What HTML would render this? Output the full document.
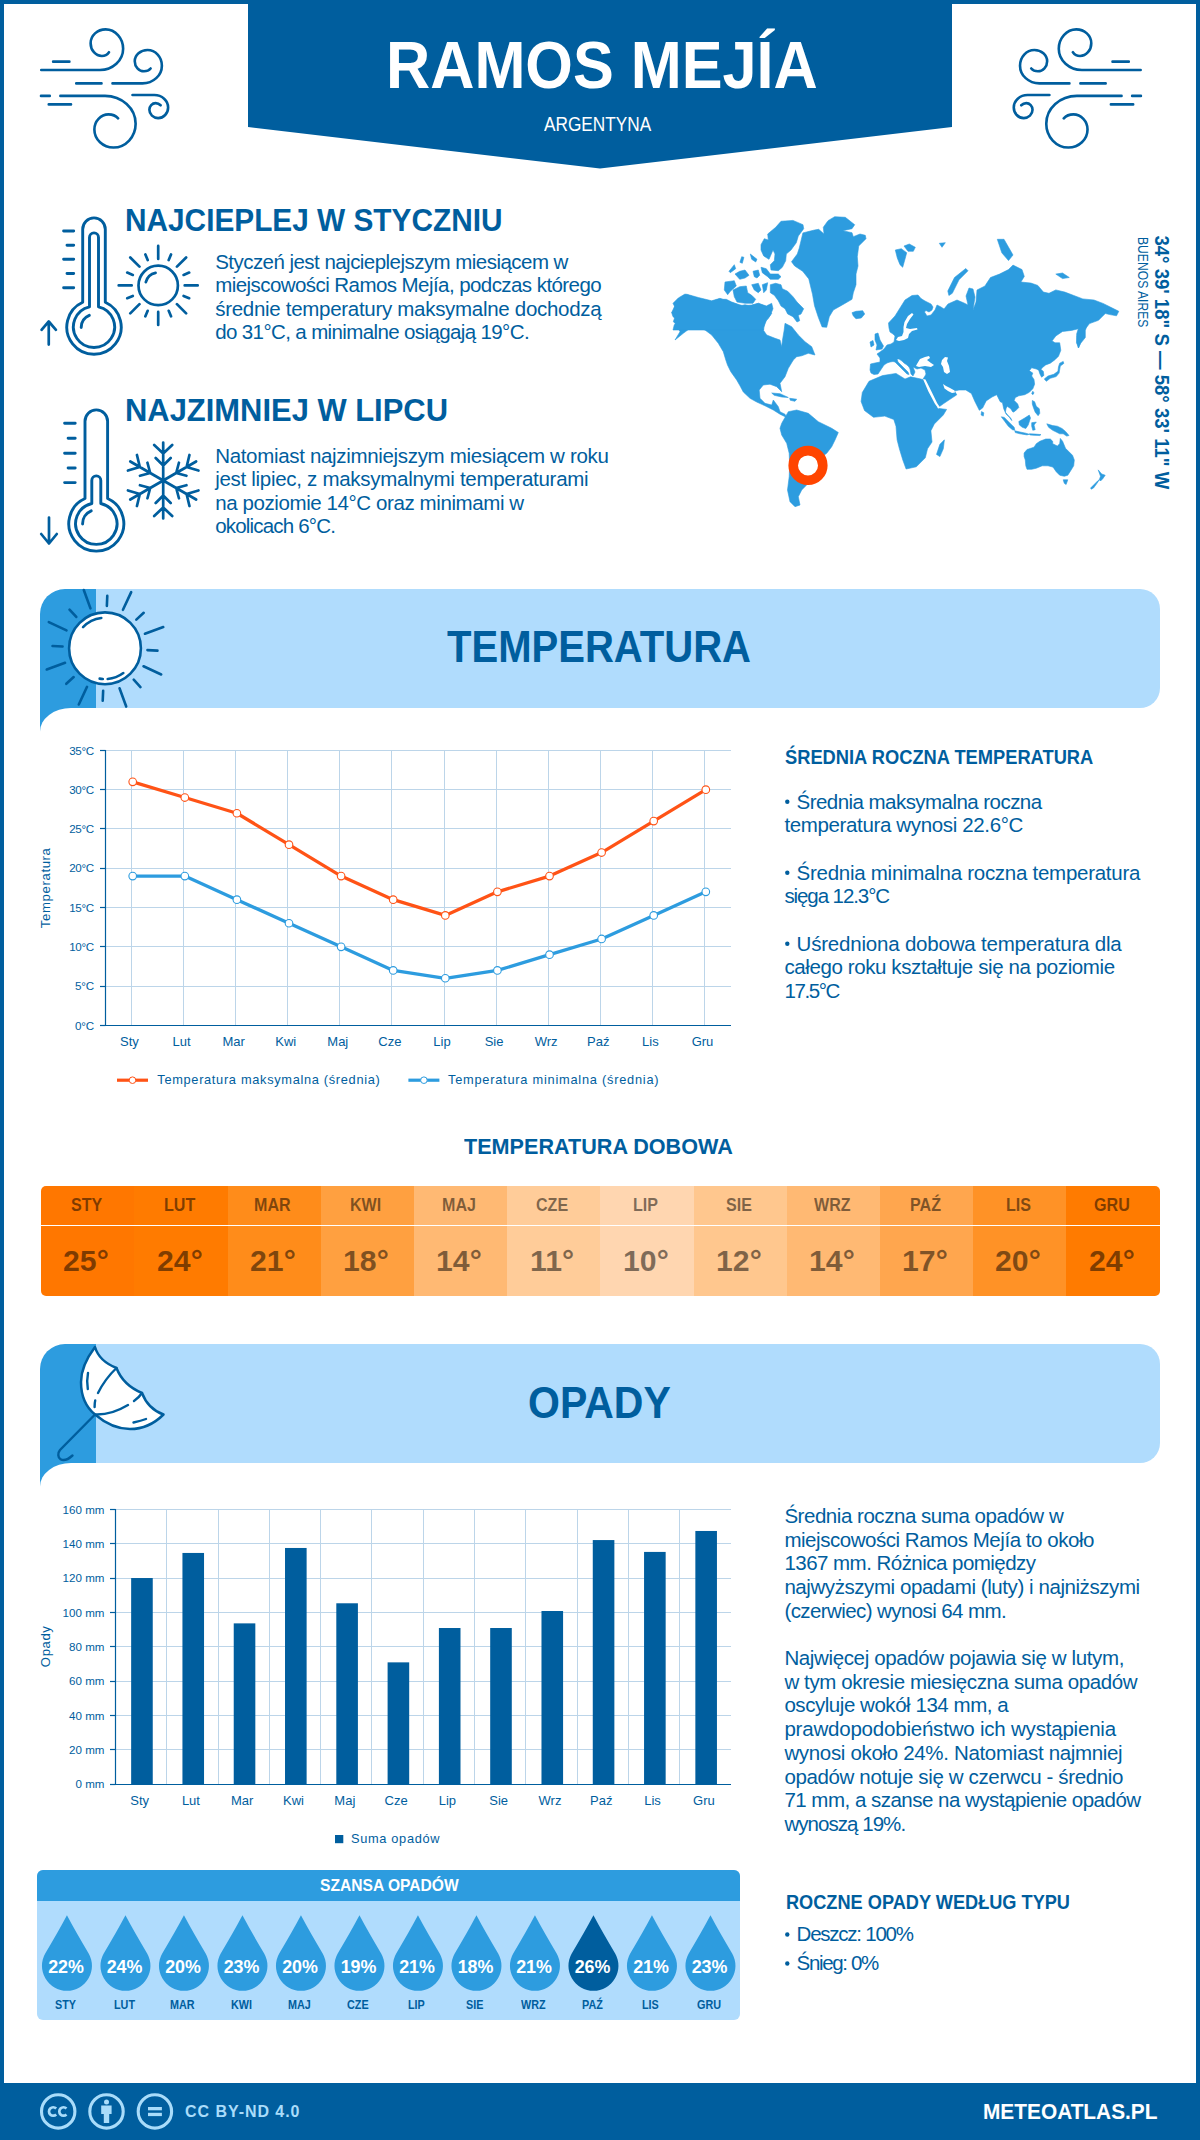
<!DOCTYPE html>
<html><head><meta charset="utf-8"><title>Ramos Mejía - klimat</title>
<style>
html,body{margin:0;padding:0;background:#fff}
#page{position:relative;width:1200px;height:2140px;overflow:hidden;background:#fff;font-family:"Liberation Sans", sans-serif}
#page span{position:absolute;white-space:pre;line-height:1}
svg{position:absolute;left:0;top:0}
</style></head><body><div id="page">
<div style="position:absolute;left:0px;top:0px;width:1200px;height:4px;background:#005e9e;"></div><div style="position:absolute;left:0px;top:0px;width:4px;height:2140px;background:#005e9e;"></div><div style="position:absolute;left:1196px;top:0px;width:4px;height:2140px;background:#005e9e;"></div><div style="position:absolute;left:0px;top:2083px;width:1200px;height:57px;background:#005e9e;"></div><div style="position:absolute;left:40px;top:588.5px;width:80px;height:149.0px;background:#2d9cdf;border-top-left-radius:25px;"></div><div style="position:absolute;left:96px;top:588.5px;width:1064px;height:119.0px;background:#b0dcfd;border-top-right-radius:20px;border-bottom-right-radius:20px;"></div><div style="position:absolute;left:40px;top:707.5px;width:200px;height:60px;background:#fff;border-top-left-radius:31px 23.5px;"></div><div style="position:absolute;left:40px;top:1344.3px;width:80px;height:148.70000000000005px;background:#2d9cdf;border-top-left-radius:25px;"></div><div style="position:absolute;left:96px;top:1344.3px;width:1064px;height:118.70000000000005px;background:#b0dcfd;border-top-right-radius:20px;border-bottom-right-radius:20px;"></div><div style="position:absolute;left:40px;top:1463px;width:200px;height:60px;background:#fff;border-top-left-radius:31px 23.5px;"></div><div style="position:absolute;left:41.25px;top:1186.3px;width:1118.25px;height:109.5px;border-radius:5px;overflow:hidden;display:flex"><div style="flex:1;background:#ff7700"></div><div style="flex:1;background:#ff7b00"></div><div style="flex:1;background:#ff8c1a"></div><div style="flex:1;background:#ffa040"></div><div style="flex:1;background:#ffb973"></div><div style="flex:1;background:#ffcc99"></div><div style="flex:1;background:#ffd6b0"></div><div style="flex:1;background:#ffc78e"></div><div style="flex:1;background:#ffb973"></div><div style="flex:1;background:#ffa64e"></div><div style="flex:1;background:#ff9226"></div><div style="flex:1;background:#ff7b00"></div></div><div style="position:absolute;left:41.25px;top:1224.6px;width:1118.25px;height:1.4px;background:#fff;"></div><div style="position:absolute;left:37px;top:1870.2px;width:703px;height:150px;background:#b0dcfd;border-radius:6px;overflow:hidden;"></div><div style="position:absolute;left:37px;top:1870.2px;width:703px;height:30.6px;background:#2d9cdf;border-radius:6px 6px 0 0;"></div>
<svg width="1200" height="2140" viewBox="0 0 1200 2140">
<polygon points="248,0 952,0 952,127 600,168.5 248,127" fill="#005e9e"/>
<line x1="105.5" y1="986.5" x2="731" y2="986.5" stroke="#bcd5e9" stroke-width="1"/>
<line x1="105.5" y1="946.5" x2="731" y2="946.5" stroke="#bcd5e9" stroke-width="1"/>
<line x1="105.5" y1="907.5" x2="731" y2="907.5" stroke="#bcd5e9" stroke-width="1"/>
<line x1="105.5" y1="868.5" x2="731" y2="868.5" stroke="#bcd5e9" stroke-width="1"/>
<line x1="105.5" y1="828.5" x2="731" y2="828.5" stroke="#bcd5e9" stroke-width="1"/>
<line x1="105.5" y1="789.5" x2="731" y2="789.5" stroke="#bcd5e9" stroke-width="1"/>
<line x1="105.5" y1="750.5" x2="731" y2="750.5" stroke="#bcd5e9" stroke-width="1"/>
<line x1="131.5" y1="750.4" x2="131.5" y2="1025.4" stroke="#bcd5e9" stroke-width="1"/>
<line x1="183.5" y1="750.4" x2="183.5" y2="1025.4" stroke="#bcd5e9" stroke-width="1"/>
<line x1="235.5" y1="750.4" x2="235.5" y2="1025.4" stroke="#bcd5e9" stroke-width="1"/>
<line x1="287.5" y1="750.4" x2="287.5" y2="1025.4" stroke="#bcd5e9" stroke-width="1"/>
<line x1="339.5" y1="750.4" x2="339.5" y2="1025.4" stroke="#bcd5e9" stroke-width="1"/>
<line x1="391.5" y1="750.4" x2="391.5" y2="1025.4" stroke="#bcd5e9" stroke-width="1"/>
<line x1="444.5" y1="750.4" x2="444.5" y2="1025.4" stroke="#bcd5e9" stroke-width="1"/>
<line x1="496.5" y1="750.4" x2="496.5" y2="1025.4" stroke="#bcd5e9" stroke-width="1"/>
<line x1="548.5" y1="750.4" x2="548.5" y2="1025.4" stroke="#bcd5e9" stroke-width="1"/>
<line x1="600.5" y1="750.4" x2="600.5" y2="1025.4" stroke="#bcd5e9" stroke-width="1"/>
<line x1="652.5" y1="750.4" x2="652.5" y2="1025.4" stroke="#bcd5e9" stroke-width="1"/>
<line x1="704.5" y1="750.4" x2="704.5" y2="1025.4" stroke="#bcd5e9" stroke-width="1"/>
<line x1="105.5" y1="750.0" x2="105.5" y2="1026.0" stroke="#005e9e" stroke-width="1.2"/>
<line x1="105.5" y1="1025.5" x2="731" y2="1025.5" stroke="#005e9e" stroke-width="1.2"/>
<line x1="100" y1="1025.5" x2="105.5" y2="1025.5" stroke="#005e9e" stroke-width="1.2"/>
<line x1="100" y1="986.5" x2="105.5" y2="986.5" stroke="#005e9e" stroke-width="1.2"/>
<line x1="100" y1="946.5" x2="105.5" y2="946.5" stroke="#005e9e" stroke-width="1.2"/>
<line x1="100" y1="907.5" x2="105.5" y2="907.5" stroke="#005e9e" stroke-width="1.2"/>
<line x1="100" y1="868.5" x2="105.5" y2="868.5" stroke="#005e9e" stroke-width="1.2"/>
<line x1="100" y1="828.5" x2="105.5" y2="828.5" stroke="#005e9e" stroke-width="1.2"/>
<line x1="100" y1="789.5" x2="105.5" y2="789.5" stroke="#005e9e" stroke-width="1.2"/>
<line x1="100" y1="750.5" x2="105.5" y2="750.5" stroke="#005e9e" stroke-width="1.2"/>
<polyline points="132.70,781.83 184.80,797.54 236.90,813.26 289.00,844.69 341.10,876.11 393.20,899.69 445.30,915.40 497.40,891.83 549.50,876.11 601.60,852.54 653.70,821.11 705.80,789.69" fill="none" stroke="#ff5316" stroke-width="3.3" stroke-linejoin="round"/>
<circle cx="132.70" cy="781.83" r="3.8" fill="#fff" stroke="#ff5316" stroke-width="1.1"/>
<circle cx="184.80" cy="797.54" r="3.8" fill="#fff" stroke="#ff5316" stroke-width="1.1"/>
<circle cx="236.90" cy="813.26" r="3.8" fill="#fff" stroke="#ff5316" stroke-width="1.1"/>
<circle cx="289.00" cy="844.69" r="3.8" fill="#fff" stroke="#ff5316" stroke-width="1.1"/>
<circle cx="341.10" cy="876.11" r="3.8" fill="#fff" stroke="#ff5316" stroke-width="1.1"/>
<circle cx="393.20" cy="899.69" r="3.8" fill="#fff" stroke="#ff5316" stroke-width="1.1"/>
<circle cx="445.30" cy="915.40" r="3.8" fill="#fff" stroke="#ff5316" stroke-width="1.1"/>
<circle cx="497.40" cy="891.83" r="3.8" fill="#fff" stroke="#ff5316" stroke-width="1.1"/>
<circle cx="549.50" cy="876.11" r="3.8" fill="#fff" stroke="#ff5316" stroke-width="1.1"/>
<circle cx="601.60" cy="852.54" r="3.8" fill="#fff" stroke="#ff5316" stroke-width="1.1"/>
<circle cx="653.70" cy="821.11" r="3.8" fill="#fff" stroke="#ff5316" stroke-width="1.1"/>
<circle cx="705.80" cy="789.69" r="3.8" fill="#fff" stroke="#ff5316" stroke-width="1.1"/>
<polyline points="132.70,876.11 184.80,876.11 236.90,899.69 289.00,923.26 341.10,946.83 393.20,970.40 445.30,978.26 497.40,970.40 549.50,954.69 601.60,938.97 653.70,915.40 705.80,891.83" fill="none" stroke="#2d9cdf" stroke-width="3.3" stroke-linejoin="round"/>
<circle cx="132.70" cy="876.11" r="3.8" fill="#fff" stroke="#2d9cdf" stroke-width="1.1"/>
<circle cx="184.80" cy="876.11" r="3.8" fill="#fff" stroke="#2d9cdf" stroke-width="1.1"/>
<circle cx="236.90" cy="899.69" r="3.8" fill="#fff" stroke="#2d9cdf" stroke-width="1.1"/>
<circle cx="289.00" cy="923.26" r="3.8" fill="#fff" stroke="#2d9cdf" stroke-width="1.1"/>
<circle cx="341.10" cy="946.83" r="3.8" fill="#fff" stroke="#2d9cdf" stroke-width="1.1"/>
<circle cx="393.20" cy="970.40" r="3.8" fill="#fff" stroke="#2d9cdf" stroke-width="1.1"/>
<circle cx="445.30" cy="978.26" r="3.8" fill="#fff" stroke="#2d9cdf" stroke-width="1.1"/>
<circle cx="497.40" cy="970.40" r="3.8" fill="#fff" stroke="#2d9cdf" stroke-width="1.1"/>
<circle cx="549.50" cy="954.69" r="3.8" fill="#fff" stroke="#2d9cdf" stroke-width="1.1"/>
<circle cx="601.60" cy="938.97" r="3.8" fill="#fff" stroke="#2d9cdf" stroke-width="1.1"/>
<circle cx="653.70" cy="915.40" r="3.8" fill="#fff" stroke="#2d9cdf" stroke-width="1.1"/>
<circle cx="705.80" cy="891.83" r="3.8" fill="#fff" stroke="#2d9cdf" stroke-width="1.1"/>
<line x1="117" y1="1080.2" x2="148" y2="1080.2" stroke="#ff5316" stroke-width="3.2"/><circle cx="132.5" cy="1080.2" r="3.3" fill="#fff" stroke="#ff5316" stroke-width="1"/>
<line x1="408.4" y1="1080.2" x2="439.4" y2="1080.2" stroke="#2d9cdf" stroke-width="3.2"/><circle cx="423.9" cy="1080.2" r="3.3" fill="#fff" stroke="#2d9cdf" stroke-width="1"/>
<circle cx="787.30" cy="801.80" r="2.2" fill="#005e9e"/>
<circle cx="787.30" cy="872.78" r="2.2" fill="#005e9e"/>
<circle cx="787.30" cy="943.76" r="2.2" fill="#005e9e"/>
<line x1="115.5" y1="1749.5" x2="731" y2="1749.5" stroke="#bcd5e9" stroke-width="1"/>
<line x1="115.5" y1="1715.5" x2="731" y2="1715.5" stroke="#bcd5e9" stroke-width="1"/>
<line x1="115.5" y1="1681.5" x2="731" y2="1681.5" stroke="#bcd5e9" stroke-width="1"/>
<line x1="115.5" y1="1646.5" x2="731" y2="1646.5" stroke="#bcd5e9" stroke-width="1"/>
<line x1="115.5" y1="1612.5" x2="731" y2="1612.5" stroke="#bcd5e9" stroke-width="1"/>
<line x1="115.5" y1="1578.5" x2="731" y2="1578.5" stroke="#bcd5e9" stroke-width="1"/>
<line x1="115.5" y1="1543.5" x2="731" y2="1543.5" stroke="#bcd5e9" stroke-width="1"/>
<line x1="115.5" y1="1509.5" x2="731" y2="1509.5" stroke="#bcd5e9" stroke-width="1"/>
<line x1="166.5" y1="1509.5" x2="166.5" y2="1784.3" stroke="#bcd5e9" stroke-width="1"/>
<line x1="218.5" y1="1509.5" x2="218.5" y2="1784.3" stroke="#bcd5e9" stroke-width="1"/>
<line x1="269.5" y1="1509.5" x2="269.5" y2="1784.3" stroke="#bcd5e9" stroke-width="1"/>
<line x1="320.5" y1="1509.5" x2="320.5" y2="1784.3" stroke="#bcd5e9" stroke-width="1"/>
<line x1="371.5" y1="1509.5" x2="371.5" y2="1784.3" stroke="#bcd5e9" stroke-width="1"/>
<line x1="423.5" y1="1509.5" x2="423.5" y2="1784.3" stroke="#bcd5e9" stroke-width="1"/>
<line x1="474.5" y1="1509.5" x2="474.5" y2="1784.3" stroke="#bcd5e9" stroke-width="1"/>
<line x1="525.5" y1="1509.5" x2="525.5" y2="1784.3" stroke="#bcd5e9" stroke-width="1"/>
<line x1="577.5" y1="1509.5" x2="577.5" y2="1784.3" stroke="#bcd5e9" stroke-width="1"/>
<line x1="628.5" y1="1509.5" x2="628.5" y2="1784.3" stroke="#bcd5e9" stroke-width="1"/>
<line x1="679.5" y1="1509.5" x2="679.5" y2="1784.3" stroke="#bcd5e9" stroke-width="1"/>
<rect x="131.15" y="1578.03" width="21.6" height="206.27" fill="#005e9e"/>
<rect x="182.44" y="1552.95" width="21.6" height="231.35" fill="#005e9e"/>
<rect x="233.73" y="1623.37" width="21.6" height="160.93" fill="#005e9e"/>
<rect x="285.02" y="1547.97" width="21.6" height="236.33" fill="#005e9e"/>
<rect x="336.31" y="1603.28" width="21.6" height="181.02" fill="#005e9e"/>
<rect x="387.60" y="1662.36" width="21.6" height="121.94" fill="#005e9e"/>
<rect x="438.90" y="1628.01" width="21.6" height="156.29" fill="#005e9e"/>
<rect x="490.19" y="1628.01" width="21.6" height="156.29" fill="#005e9e"/>
<rect x="541.48" y="1611.00" width="21.6" height="173.30" fill="#005e9e"/>
<rect x="592.77" y="1540.07" width="21.6" height="244.23" fill="#005e9e"/>
<rect x="644.06" y="1551.92" width="21.6" height="232.38" fill="#005e9e"/>
<rect x="695.35" y="1530.97" width="21.6" height="253.33" fill="#005e9e"/>
<line x1="115.5" y1="1509.0" x2="115.5" y2="1785.0" stroke="#005e9e" stroke-width="1.2"/>
<line x1="115.5" y1="1784.5" x2="731" y2="1784.5" stroke="#005e9e" stroke-width="1.2"/>
<line x1="110" y1="1784.5" x2="115.5" y2="1784.5" stroke="#005e9e" stroke-width="1.2"/>
<line x1="110" y1="1749.5" x2="115.5" y2="1749.5" stroke="#005e9e" stroke-width="1.2"/>
<line x1="110" y1="1715.5" x2="115.5" y2="1715.5" stroke="#005e9e" stroke-width="1.2"/>
<line x1="110" y1="1681.5" x2="115.5" y2="1681.5" stroke="#005e9e" stroke-width="1.2"/>
<line x1="110" y1="1646.5" x2="115.5" y2="1646.5" stroke="#005e9e" stroke-width="1.2"/>
<line x1="110" y1="1612.5" x2="115.5" y2="1612.5" stroke="#005e9e" stroke-width="1.2"/>
<line x1="110" y1="1578.5" x2="115.5" y2="1578.5" stroke="#005e9e" stroke-width="1.2"/>
<line x1="110" y1="1543.5" x2="115.5" y2="1543.5" stroke="#005e9e" stroke-width="1.2"/>
<line x1="110" y1="1509.5" x2="115.5" y2="1509.5" stroke="#005e9e" stroke-width="1.2"/>
<rect x="335" y="1835" width="8.3" height="8.2" fill="#005e9e"/>
<circle cx="787.30" cy="1934.50" r="2.2" fill="#005e9e"/>
<circle cx="787.30" cy="1963.50" r="2.2" fill="#005e9e"/>
<path d="M66.95,1915.3 Q75.95,1932.3 88.67,1953.42 A25,25 0 1 1 45.23,1953.42 Q57.95,1932.3 66.95,1915.3 Z" fill="#2d9cdf"/>
<path d="M125.45,1915.3 Q134.45,1932.3 147.17,1953.42 A25,25 0 1 1 103.73,1953.42 Q116.45,1932.3 125.45,1915.3 Z" fill="#2d9cdf"/>
<path d="M183.95,1915.3 Q192.95,1932.3 205.67,1953.42 A25,25 0 1 1 162.23,1953.42 Q174.95,1932.3 183.95,1915.3 Z" fill="#2d9cdf"/>
<path d="M242.45,1915.3 Q251.45,1932.3 264.17,1953.42 A25,25 0 1 1 220.73,1953.42 Q233.45,1932.3 242.45,1915.3 Z" fill="#2d9cdf"/>
<path d="M300.95,1915.3 Q309.95,1932.3 322.67,1953.42 A25,25 0 1 1 279.23,1953.42 Q291.95,1932.3 300.95,1915.3 Z" fill="#2d9cdf"/>
<path d="M359.45,1915.3 Q368.45,1932.3 381.17,1953.42 A25,25 0 1 1 337.73,1953.42 Q350.45,1932.3 359.45,1915.3 Z" fill="#2d9cdf"/>
<path d="M417.95,1915.3 Q426.95,1932.3 439.67,1953.42 A25,25 0 1 1 396.23,1953.42 Q408.95,1932.3 417.95,1915.3 Z" fill="#2d9cdf"/>
<path d="M476.45,1915.3 Q485.45,1932.3 498.17,1953.42 A25,25 0 1 1 454.73,1953.42 Q467.45,1932.3 476.45,1915.3 Z" fill="#2d9cdf"/>
<path d="M534.95,1915.3 Q543.95,1932.3 556.67,1953.42 A25,25 0 1 1 513.23,1953.42 Q525.95,1932.3 534.95,1915.3 Z" fill="#2d9cdf"/>
<path d="M593.45,1915.3 Q602.45,1932.3 615.17,1953.42 A25,25 0 1 1 571.73,1953.42 Q584.45,1932.3 593.45,1915.3 Z" fill="#005e9e"/>
<path d="M651.95,1915.3 Q660.95,1932.3 673.67,1953.42 A25,25 0 1 1 630.23,1953.42 Q642.95,1932.3 651.95,1915.3 Z" fill="#2d9cdf"/>
<path d="M710.45,1915.3 Q719.45,1932.3 732.17,1953.42 A25,25 0 1 1 688.73,1953.42 Q701.45,1932.3 710.45,1915.3 Z" fill="#2d9cdf"/>
<g transform="translate(30,20) scale(0.125)"><path d="M90,400 L560,400 C662,400 745,324 745,230 C745,144 682,75 605,75 C539,75 485,124 485,185 C485,242 525,288 575,288 C600,288 620,275 632,258 M185,333 L315,333 M370,507 L572,507 M660,507 L900,507 C986,507 1055,443 1055,365 C1055,296 1004,240 940,240 C884,240 838,280 838,330 C838,374 871,410 912,410 C935,410 955,400 965,388 M88,607 L158,607 M243,607 L600,607 C735,607 845,707 845,830 C845,935 766,1020 668,1020 C584,1020 515,955 515,875 C515,809 566,755 628,755 C660,755 690,770 705,787 M150,675 L328,675 M820,600 L995,600 C1056,600 1105,645 1105,700 C1105,747 1069,785 1025,785 C986,785 955,755 955,718 C955,689 977,665 1005,665 C1022,665 1035,672 1045,682" fill="none" stroke="#005e9e" stroke-width="21" stroke-linecap="round" stroke-linejoin="round"/></g>
<g transform="translate(1151.9,20) scale(-0.125,0.125)"><path d="M90,400 L560,400 C662,400 745,324 745,230 C745,144 682,75 605,75 C539,75 485,124 485,185 C485,242 525,288 575,288 C600,288 620,275 632,258 M185,333 L315,333 M370,507 L572,507 M660,507 L900,507 C986,507 1055,443 1055,365 C1055,296 1004,240 940,240 C884,240 838,280 838,330 C838,374 871,410 912,410 C935,410 955,400 965,388 M88,607 L158,607 M243,607 L600,607 C735,607 845,707 845,830 C845,935 766,1020 668,1020 C584,1020 515,955 515,875 C515,809 566,755 628,755 C660,755 690,770 705,787 M150,675 L328,675 M820,600 L995,600 C1056,600 1105,645 1105,700 C1105,747 1069,785 1025,785 C986,785 955,755 955,718 C955,689 977,665 1005,665 C1022,665 1035,672 1045,682" fill="none" stroke="#005e9e" stroke-width="21" stroke-linecap="round" stroke-linejoin="round"/></g>
<path d="M82.70,302.26 L82.70,229.20 A11.3,11.3 0 0 1 105.30,229.20 L105.30,302.26 A27.2,27.2 0 1 1 82.70,302.26 Z M89.50,306.80 L89.50,237.40 A4.5,4.5 0 0 1 98.50,237.40 L98.50,306.80 A20.6,20.6 0 1 1 89.50,306.80 Z M81.2,327.5 A13.3,13.3 0 0 1 89.3,315.3" fill="none" stroke="#005e9e" stroke-width="2.9" stroke-linecap="round" stroke-linejoin="round"/>
<path d="M63.6,231 L73.7,231 M67.0,245.2 L73.7,245.2 M63.6,259.3 L73.7,259.3 M67.0,273.5 L73.7,273.5 M63.6,287.7 L73.7,287.7 " stroke="#005e9e" stroke-width="2.9" stroke-linecap="round"/>
<path d="M48.75,344.6 L48.75,321.5 M41.55,329.8 L48.75,321.5 L55.95,329.8" fill="none" stroke="#005e9e" stroke-width="2.7" stroke-linecap="round" stroke-linejoin="round"/>
<circle cx="158.2" cy="285.4" r="19.7" fill="none" stroke="#005e9e" stroke-width="2.7"/>
<path d="M184.70,285.40 L197.70,285.40 M183.61,295.92 L189.15,298.22 M176.94,304.14 L186.13,313.33 M168.72,310.81 L171.02,316.35 M158.20,311.90 L158.20,324.90 M147.68,310.81 L145.38,316.35 M139.46,304.14 L130.27,313.33 M132.79,295.92 L127.25,298.22 M131.70,285.40 L118.70,285.40 M132.79,274.88 L127.25,272.58 M139.46,266.66 L130.27,257.47 M147.68,259.99 L145.38,254.45 M158.20,258.90 L158.20,245.90 M168.72,259.99 L171.02,254.45 M176.94,266.66 L186.13,257.47 M183.61,274.88 L189.15,272.58 M145.84,282.09 A12.8,12.8 0 0 1 155.54,272.88" fill="none" stroke="#005e9e" stroke-width="2.7" stroke-linecap="round"/>
<path d="M85.00,498.53 L85.00,421.20 A11.3,11.3 0 0 1 107.60,421.20 L107.60,498.53 A27.5,27.5 0 1 1 85.00,498.53 Z M91.80,503.50 L91.80,480.40 A4.5,4.5 0 0 1 100.80,480.40 L100.80,503.50 A20.7,20.7 0 1 1 91.80,503.50 Z M82.6,524 A14,14 0 0 1 91.2,510.8" fill="none" stroke="#005e9e" stroke-width="2.9" stroke-linecap="round" stroke-linejoin="round"/>
<path d="M64.6,423.2 L75.2,423.2 M68.1,438.2 L75.2,438.2 M64.6,453.2 L75.2,453.2 M68.1,468 L75.2,468 M64.6,482.6 L75.2,482.6 " stroke="#005e9e" stroke-width="2.9" stroke-linecap="round"/>
<path d="M49,517.5 L49,543.5 M41.2,534.0 L49,543.5 L56.8,534.0" fill="none" stroke="#005e9e" stroke-width="2.7" stroke-linecap="round" stroke-linejoin="round"/>
<path d="M163.20,480.50 L163.20,442.50 M163.20,453.50 L154.20,445.00 M163.20,453.50 L172.20,445.00 M163.20,465.50 L155.70,458.00 M163.20,465.50 L170.70,458.00 M163.20,480.50 L196.11,461.50 M186.58,467.00 L189.44,454.96 M186.58,467.00 L198.44,470.54 M176.19,473.00 L178.94,462.75 M176.19,473.00 L186.44,475.75 M163.20,480.50 L196.11,499.50 M186.58,494.00 L198.44,490.46 M186.58,494.00 L189.44,506.04 M176.19,488.00 L186.44,485.25 M176.19,488.00 L178.94,498.25 M163.20,480.50 L163.20,518.50 M163.20,507.50 L172.20,516.00 M163.20,507.50 L154.20,516.00 M163.20,495.50 L170.70,503.00 M163.20,495.50 L155.70,503.00 M163.20,480.50 L130.29,499.50 M139.82,494.00 L136.96,506.04 M139.82,494.00 L127.96,490.46 M150.21,488.00 L147.46,498.25 M150.21,488.00 L139.96,485.25 M163.20,480.50 L130.29,461.50 M139.82,467.00 L127.96,470.54 M139.82,467.00 L136.96,454.96 M150.21,473.00 L139.96,475.75 M150.21,473.00 L147.46,462.75 " fill="none" stroke="#005e9e" stroke-width="2.7" stroke-linecap="round"/>
<path d="M147.46,650.15 L157.45,650.59 M143.52,666.26 L161.19,674.50 M133.71,679.63 L140.47,687.01 M119.54,688.24 L126.21,706.56 M103.15,690.76 L102.71,700.75 M87.04,686.82 L78.80,704.49 M73.67,677.01 L66.29,683.77 M65.06,662.84 L46.74,669.51 M62.54,646.45 L52.55,646.01 M66.48,630.34 L48.81,622.10 M76.29,616.97 L69.53,609.59 M90.46,608.36 L83.79,590.04 M106.85,605.84 L107.29,595.85 M122.96,609.78 L131.20,592.11 M136.33,619.59 L143.71,612.83 M144.94,633.76 L163.26,627.09 " stroke="#005e9e" stroke-width="2.6" stroke-linecap="round"/>
<circle cx="105" cy="648.3" r="35.9" fill="#fff" stroke="#005e9e" stroke-width="2.6"/>
<path d="M83.06,627.11 A30.5,30.5 0 0 1 101.28,618.03 M123.32,673.06 A30.8,30.8 0 0 1 107.68,678.98 M102.85,679.02 A30.8,30.8 0 0 1 99.65,678.63 " fill="none" stroke="#005e9e" stroke-width="2.6" stroke-linecap="round"/>
<path d="M95,1347 C89,1355 81,1368 81,1382 C81,1398 87,1408 95,1414.5 C105,1423 118,1429 130,1429 C145,1429 156,1422 163.5,1414.5 Q148,1409 142,1393 Q123,1385 116.5,1368 Q99,1361 95,1347 Z" fill="#fff" stroke="#005e9e" stroke-width="2.5" stroke-linejoin="round"/>
<path d="M94.6,1407 C94.6,1404 94.8,1402 95.2,1400.5 M98,1393 C102,1385 108,1376 116.5,1368 M95,1414.5 C105,1415 118,1411 128,1405 M134,1401 C137,1399 140,1396 142,1393 M88,1373 C87,1378 87,1384 87.8,1389 M133.5,1422.5 C138,1421.5 142,1420.5 146,1419 M95,1414.5 L60,1450 C57.5,1453 57.8,1457.5 60.5,1459.2 C63.5,1461 67.5,1460 72.5,1455.5" fill="none" stroke="#005e9e" stroke-width="2.4" stroke-linecap="round"/>
<circle cx="58.2" cy="2111.4" r="16.7" fill="none" stroke="#a9dcfa" stroke-width="3.1"/>
<circle cx="106.5" cy="2111.4" r="16.7" fill="none" stroke="#a9dcfa" stroke-width="3.1"/>
<circle cx="154.9" cy="2111.4" r="16.7" fill="none" stroke="#a9dcfa" stroke-width="3.1"/>
<path d="M56.17,2108.53 A4.2,4.2 0 1 0 56.17,2114.47 M66.47,2108.53 A4.2,4.2 0 1 0 66.47,2114.47 " fill="none" stroke="#a9dcfa" stroke-width="2.7"/>
<circle cx="106.5" cy="2101.9" r="2.5" fill="#a9dcfa"/>
<path d="M101.2,2105.6 L111.6,2105.6 L111.6,2114 L109.2,2114 L109.2,2123 L103.8,2123 L103.8,2114 L101.2,2114 Z" fill="#a9dcfa"/>
<rect x="148" y="2107" width="13.9" height="3.3" fill="#a9dcfa"/><rect x="148" y="2112.8" width="13.9" height="3.3" fill="#a9dcfa"/>
<path d="M671.7,312.5 L677.5,300.0 L686.7,294.2 L698.3,297.5 L711.7,300.8 L720.0,298.3 L731.7,302.5 L743.3,305.8 L751.7,305.0 L758.3,303.3 L766.7,306.7 L771.7,313.3 L768.3,318.3 L765.0,321.7 L763.3,330.0 L766.7,335.0 L775.0,338.3 L780.0,340.0 L781.7,346.7 L782.5,340.0 L784.2,330.0 L785.0,323.3 L791.7,326.7 L798.3,335.0 L805.0,341.7 L811.7,346.7 L815.0,355.0 L808.3,353.3 L801.7,355.8 L796.7,356.7 L793.3,360.0 L788.3,368.3 L785.0,376.7 L780.0,383.3 L781.7,391.7 L780.0,390.0 L776.7,386.7 L770.0,384.2 L763.3,385.0 L759.2,390.0 L760.0,398.3 L765.0,403.3 L771.7,405.0 L773.3,400.0 L778.3,406.7 L780.0,411.7 L785.0,414.2 L786.7,417.5 L780.0,414.2 L773.3,410.0 L765.0,405.8 L756.7,402.0 L750.0,398.3 L743.3,392.0 L740.0,385.8 L736.7,380.0 L730.8,371.7 L727.5,365.0 L725.8,360.0 L723.3,351.7 L718.3,343.3 L711.7,335.0 L705.0,330.0 L696.7,327.5 L690.0,328.3 L683.3,333.3 L675.0,340.0 L680.0,331.7 L676.7,325.0 L673.3,321.7 L675.0,316.7Z M771.7,393.0 L780.0,393.7 L788.3,397.5 L781.7,397.0 L774.2,395.3Z M789.7,398.3 L796.7,399.2 L795.0,401.3 L790.3,400.3Z M781.7,423.3 L788.3,411.7 L796.7,410.0 L808.3,413.3 L818.3,421.7 L831.7,428.3 L838.3,432.5 L835.0,440.0 L831.7,446.7 L826.7,453.3 L821.7,456.7 L820.0,466.7 L815.0,473.3 L808.3,483.3 L801.7,490.0 L798.3,496.7 L800.0,505.0 L795.0,506.7 L790.0,501.7 L787.5,490.0 L789.2,476.7 L789.7,465.0 L789.2,453.3 L786.7,443.3 L781.7,435.0 L780.0,428.3Z M761.0,244.7 L764.3,238.7 L768.3,240.0 L767.7,234.0 L775.7,227.3 L781.0,221.3 L793.0,220.4 L803.0,224.7 L803.7,228.7 L798.3,236.0 L796.3,242.7 L791.0,250.0 L786.3,254.0 L785.7,260.7 L782.3,267.3 L778.3,270.7 L771.0,270.0 L770.3,264.7 L774.3,260.7 L775.0,254.0 L773.0,250.0 L769.0,259.3 L763.7,256.0 L761.0,250.0Z M770.3,284.7 L775.7,283.3 L781.0,284.7 L782.3,288.7 L787.7,291.3 L793.0,296.7 L797.0,302.0 L803.7,308.7 L801.0,314.0 L798.3,315.3 L799.7,320.7 L797.0,322.0 L793.0,316.7 L787.7,314.0 L785.0,308.7 L781.0,306.0 L778.3,300.7 L774.3,295.3 L770.3,292.7Z M725.0,282.0 L734.3,280.7 L736.3,286.0 L730.3,291.3 L727.7,294.7 L724.3,290.0Z M733.0,290.0 L739.7,286.7 L746.3,286.0 L747.7,292.7 L751.7,295.3 L755.7,299.3 L753.0,303.3 L745.0,303.3 L737.0,302.0 L734.3,296.7Z M729.0,271.3 L734.3,264.7 L735.7,268.7 L730.3,272.7Z M735.0,274.0 L739.7,271.3 L745.0,270.0 L749.0,275.3 L745.0,278.0 L739.7,279.3Z M753.0,271.3 L758.3,270.0 L759.7,275.3 L757.0,278.0 L754.3,276.7Z M761.0,267.3 L766.3,268.7 L770.3,274.0 L778.3,274.0 L781.0,276.7 L778.3,279.3 L770.3,279.3 L767.7,276.7 L762.3,272.7Z M751.7,284.7 L758.3,283.3 L761.0,290.0 L758.3,292.7 L754.3,290.0Z M762.3,284.7 L767.7,282.7 L766.3,290.0 L763.7,292.7Z M750.3,254.0 L757.0,259.3 L755.7,262.0 L751.7,259.3Z M741.7,256.7 L743.9,257.3 L742.3,263.3 L739.9,262.3Z M673.0,303.3 L678.3,298.0 L685.0,294.0 L693.0,296.7 L703.7,300.7 L710.3,302.0 L718.3,299.3 L726.3,299.3 L731.7,302.0 L737.0,304.0 L739.7,306.0 L745.0,304.7 L750.3,306.0 L758.3,303.3 L766.3,306.0 L771.7,303.3 L773.0,308.7 L770.3,315.3 L766.3,320.7 L763.7,327.3 L763.7,330.0 L673.0,330.0 L674.3,324.7 L678.3,320.7 L673.0,316.7 L671.7,312.7 L675.7,308.7Z M802.9,232.9 L809.3,231.3 L814.5,230.0 L818.7,229.3 L824.0,234.0 L823.3,227.3 L828.0,220.7 L834.7,216.7 L845.3,217.3 L854.7,224.7 L852.0,228.7 L842.7,230.7 L852.0,232.7 L853.3,236.7 L860.0,234.0 L865.3,235.3 L866.0,238.7 L858.7,246.0 L857.3,256.7 L858.0,266.0 L856.0,274.0 L856.0,284.7 L853.3,292.7 L852.0,299.3 L842.7,304.7 L833.3,310.0 L829.3,316.7 L826.7,327.3 L822.1,326.9 L818.3,317.3 L814.5,305.7 L812.5,294.3 L808.8,278.9 L802.7,271.3 L794.7,266.0 L791.5,261.7 L797.3,254.0 L799.2,248.3Z M852.0,312.7 L856.0,311.3 L862.7,310.7 L864.7,314.0 L861.3,318.0 L856.0,318.7 L853.3,316.0Z M895.3,250.0 L901.3,248.7 L906.7,252.7 L905.3,258.0 L902.7,267.3 L900.0,264.7 L897.3,258.0Z M904.0,246.0 L909.3,244.0 L915.3,247.3 L913.3,251.3 L908.0,251.3Z M939.3,243.3 L945.3,242.7 L942.0,247.3Z M888.5,323.0 L895.0,316.0 L900.0,308.0 L905.0,300.0 L912.0,295.5 L918.0,295.0 L921.0,298.5 L925.0,301.0 L931.0,304.0 L933.0,307.0 L932.0,310.0 L929.0,312.0 L926.0,310.5 L924.5,312.0 L927.0,316.0 L931.0,315.0 L935.0,310.0 L937.0,305.0 L941.0,307.0 L944.0,309.0 L948.0,304.0 L957.0,300.0 L964.0,303.0 L968.0,305.0 L966.0,296.0 L969.0,288.0 L973.0,289.0 L975.0,297.0 L973.0,310.0 L976.0,302.0 L977.0,290.0 L985.0,286.0 L986.0,284.3 L990.5,277.5 L999.5,274.1 L1008.5,269.6 L1013.0,265.1 L1022.0,269.6 L1024.3,276.4 L1020.9,282.0 L1031.0,283.1 L1037.8,285.4 L1043.4,292.1 L1049.0,293.3 L1055.8,289.9 L1064.8,292.1 L1073.8,295.5 L1082.8,298.9 L1094.0,300.0 L1103.0,303.4 L1109.8,306.8 L1118.8,311.3 L1116.5,315.8 L1109.8,314.6 L1105.3,313.5 L1098.5,320.3 L1089.5,323.6 L1085.0,329.3 L1081.6,339.4 L1078.7,347.7 L1076.5,342.8 L1076.7,333.8 L1078.3,328.8 L1071.5,330.4 L1062.5,331.5 L1055.8,336.0 L1052.4,340.5 L1051.5,340.4 L1055.0,342.8 L1059.7,342.8 L1060.8,350.3 L1058.5,356.2 L1055.0,359.7 L1050.3,363.2 L1045.7,364.9 L1042.2,367.8 L1041.0,369.6 L1043.3,371.3 L1043.9,375.4 L1041.6,377.2 L1039.8,373.7 L1038.7,370.2 L1036.3,369.0 L1031.7,367.8 L1029.3,370.8 L1032.8,373.1 L1031.7,376.0 L1034.0,379.5 L1034.6,384.2 L1032.8,388.8 L1029.3,392.3 L1024.7,394.7 L1018.8,395.8 L1015.3,397.6 L1014.2,400.5 L1017.7,404.0 L1018.8,407.5 L1015.3,411.0 L1013.0,412.2 L1010.7,408.7 L1007.2,406.3 L1006.0,408.7 L1005.4,412.2 L1008.3,415.7 L1010.7,418.0 L1011.8,420.6 L1009.5,417.4 L1006.0,413.9 L1003.7,408.7 L1002.5,402.8 L1000.2,401.7 L996.7,394.7 L992.0,397.0 L985.0,401.7 L986.0,401.3 L982.6,408.0 L979.3,410.3 L974.8,401.3 L971.4,393.4 L965.8,390.0 L959.0,390.0 L954.5,391.1 L956.8,394.8 L950.0,399.3 L943.3,403.8 L938.8,407.1 L935.4,406.0 L932.0,399.3 L927.5,390.3 L924.1,383.5 L923.0,379.0 L925.0,376.0 L926.0,374.0 L925.0,370.0 L921.0,368.0 L917.0,369.0 L915.0,368.0 L913.0,367.0 L915.0,372.0 L913.0,376.0 L911.0,374.0 L910.0,369.0 L909.0,367.0 L907.0,365.0 L904.0,363.0 L902.0,361.0 L899.0,359.0 L897.0,359.0 L898.0,362.0 L901.0,365.0 L905.0,369.0 L908.0,372.0 L909.0,374.5 L907.0,374.0 L905.0,372.0 L903.0,370.0 L900.0,367.0 L897.0,364.0 L895.0,362.0 L893.0,361.5 L890.0,362.0 L887.0,363.0 L884.0,365.0 L882.0,368.0 L880.0,371.0 L878.0,374.0 L874.0,374.5 L871.0,373.0 L870.0,370.0 L870.5,364.0 L875.0,363.0 L880.0,362.0 L880.0,358.0 L877.0,354.0 L880.0,352.0 L884.0,349.0 L887.0,345.0 L891.0,344.0 L894.0,342.0 L895.0,336.0 L893.0,334.0 L890.0,332.0 L889.0,328.0Z M875.0,334.0 L878.0,333.0 L880.0,340.0 L883.5,346.0 L882.0,349.0 L876.0,350.0 L877.0,345.0 L875.0,340.0Z M870.0,342.0 L873.0,340.5 L874.0,345.0 L871.0,347.0Z M861.1,401.5 L862.3,392.5 L869.0,381.3 L882.5,375.6 L896.0,373.4 L905.0,379.0 L910.6,376.8 L920.8,379.0 L924.1,380.1 L927.5,388.0 L934.3,399.3 L937.6,408.3 L946.6,409.4 L943.3,415.0 L934.3,424.0 L930.9,430.8 L932.0,442.0 L927.5,448.8 L925.3,457.8 L916.3,466.8 L906.1,469.0 L902.8,460.0 L899.4,448.8 L897.1,439.8 L896.0,426.3 L893.8,419.5 L884.8,416.1 L873.5,417.3 L864.5,410.5Z M939.9,444.3 L944.4,439.8 L943.3,448.8 L939.9,456.6 L936.5,454.4Z M981.5,411.6 L983.8,412.8 L983.3,416.1 L981.1,415.0Z M947.8,291.0 L954.5,277.5 L965.8,268.5 L968.0,270.8 L959.0,279.8 L952.3,293.3 L948.9,295.5Z M997.3,239.3 L1004.0,239.3 L1013.0,255.0 L1008.5,260.6 L1001.8,252.8Z M1055.8,274.1 L1062.5,273.0 L1069.3,277.5 L1062.5,278.6Z M1077.2,336.3 L1081.8,329.3 L1086.5,322.9 L1087.7,323.5 L1085.3,330.5 L1085.3,337.5 L1080.7,343.3 L1078.3,348.0 L1077.2,343.3Z M1044.3,378.9 L1048.0,376.0 L1053.8,374.3 L1057.9,371.3 L1058.5,366.7 L1059.7,363.2 L1063.2,361.4 L1063.8,363.4 L1060.3,366.1 L1059.1,373.1 L1056.2,376.6 L1050.3,378.3 L1046.3,381.3Z M1032.8,391.2 L1034.0,392.9 L1032.8,394.7 L1031.7,393.5Z M1032.3,400.5 L1034.6,401.7 L1036.3,406.3 L1039.3,408.7 L1039.8,413.3 L1038.1,415.7 L1035.2,412.2 L1033.4,407.5 L1032.3,404.0Z M1018.8,421.5 L1024.7,418.0 L1029.3,415.1 L1030.5,418.0 L1028.2,425.0 L1025.8,428.5 L1022.3,427.3 L1019.4,425.0Z M1031.7,422.7 L1036.3,422.1 L1034.0,425.0 L1035.2,429.7 L1032.8,430.3 L1031.7,426.2Z M1001.3,416.8 L1004.3,417.4 L1009.5,422.7 L1014.2,427.3 L1014.8,430.3 L1012.4,429.7 L1008.3,426.2 L1004.8,421.5Z M1014.8,430.8 L1020.0,432.0 L1025.8,433.2 L1029.3,434.3 L1027.0,434.9 L1020.0,433.8 L1015.3,432.6Z M1029.3,433.8 L1035.2,434.1 L1041.0,434.6 L1039.8,435.5 L1034.0,435.3 L1029.9,434.9Z M1046.8,423.8 L1052.7,425.6 L1057.3,426.2 L1062.0,428.5 L1065.5,431.4 L1069.0,435.5 L1066.7,436.1 L1063.2,433.8 L1059.7,433.8 L1056.2,432.0 L1052.7,430.3 L1048.6,427.3Z M1024.1,453.0 L1027.0,449.5 L1034.0,447.2 L1036.3,443.7 L1039.8,441.3 L1045.7,439.0 L1050.3,439.0 L1052.7,441.3 L1052.7,443.7 L1057.3,446.0 L1059.7,443.7 L1060.3,438.4 L1062.6,441.3 L1065.5,448.3 L1069.0,451.8 L1072.5,455.3 L1074.3,460.0 L1073.7,465.8 L1070.8,470.5 L1067.8,475.2 L1064.3,476.3 L1059.7,475.2 L1056.2,471.7 L1053.8,468.2 L1052.7,467.0 L1048.0,465.8 L1042.2,465.8 L1036.3,468.2 L1031.7,469.3 L1027.0,469.3 L1025.8,465.8 L1025.3,460.0 L1024.1,456.5Z M1063.2,479.8 L1067.8,479.8 L1066.1,484.5 L1064.3,483.3Z M1098.2,469.9 L1101.7,474.0 L1105.2,475.2 L1102.8,478.7 L1100.5,481.0 L1099.3,479.8 L1100.5,476.3Z M1099.3,479.8 L1097.0,483.3 L1093.5,488.0 L1091.2,489.2 L1090.6,488.0 L1094.1,484.5 L1097.6,481.0Z" fill="#2d9cdf" stroke="#2d9cdf" stroke-width="0.6" stroke-linejoin="round"/>
<path d="M912.0,313.0 L913.5,314.5 L910.0,319.0 L907.0,324.0 L906.0,328.0 L910.0,329.0 L917.0,328.0 L917.5,329.5 L912.0,331.0 L909.0,334.0 L908.0,338.0 L904.0,340.0 L899.0,341.0 L896.0,340.0 L898.0,337.0 L902.0,336.0 L903.5,332.0 L903.5,327.0 L904.5,322.0 L908.0,316.0Z M917.0,364.0 L920.0,359.0 L925.0,357.0 L929.0,356.0 L930.0,358.0 L927.0,360.0 L931.0,363.0 L934.0,365.0 L931.0,367.0 L925.0,366.0 L919.0,367.0 L916.0,366.0Z M942.0,360.0 L945.0,357.0 L948.0,357.5 L947.0,361.0 L949.0,366.0 L950.0,372.0 L947.0,374.0 L944.0,372.0 L943.0,367.0 L941.0,364.0Z M943.0,384.0 L946.0,386.0 L950.0,388.0 L954.5,390.5 L955.0,392.5 L952.0,393.0 L948.0,391.0 L944.5,388.5Z M923.0,379.0 L925.5,379.5 L931.1,390.7 L937.2,403.3 L940.1,407.4 L938.3,408.5 L934.9,403.8 L928.4,391.6Z" fill="#fff"/>
<circle cx="808" cy="465.4" r="14.8" fill="#fff" stroke="#ff4500" stroke-width="9.6"/>
</svg>
<span style="transform:scaleX(0.9148);transform-origin:0px 56.63px;left:385.95px;top:32.37px;font-size:66.9px;font-weight:700;color:#fff;">RAMOS MEJÍA</span>
<span style="transform:scaleX(0.8842);transform-origin:0px 16.51px;left:544.35px;top:114.69px;font-size:19.5px;font-weight:400;color:#fff;">ARGENTYNA</span>
<span style="transform:scaleX(0.9312);transform-origin:0px 27.09px;left:124.50px;top:203.91px;font-size:32px;font-weight:700;color:#005e9e;">NAJCIEPLEJ W STYCZNIU</span>
<span style="left:215.20px;top:251.65px;font-size:20.5px;font-weight:400;color:#005e9e;letter-spacing:-0.539px;">Styczeń jest najcieplejszym miesiącem w</span>
<span style="left:215.20px;top:275.25px;font-size:20.5px;font-weight:400;color:#005e9e;letter-spacing:-0.563px;">miejscowości Ramos Mejía, podczas którego</span>
<span style="left:215.20px;top:298.85px;font-size:20.5px;font-weight:400;color:#005e9e;letter-spacing:-0.294px;">średnie temperatury maksymalne dochodzą</span>
<span style="left:215.20px;top:322.45px;font-size:20.5px;font-weight:400;color:#005e9e;letter-spacing:-0.620px;">do 31°C, a minimalne osiągają 19°C.</span>
<span style="transform:scaleX(0.9664);transform-origin:0px 27.09px;left:124.50px;top:393.91px;font-size:32px;font-weight:700;color:#005e9e;">NAJZIMNIEJ W LIPCU</span>
<span style="left:215.20px;top:445.65px;font-size:20.5px;font-weight:400;color:#005e9e;letter-spacing:-0.325px;">Natomiast najzimniejszym miesiącem w roku</span>
<span style="left:215.20px;top:469.25px;font-size:20.5px;font-weight:400;color:#005e9e;letter-spacing:-0.291px;">jest lipiec, z maksymalnymi temperaturami</span>
<span style="left:215.20px;top:492.85px;font-size:20.5px;font-weight:400;color:#005e9e;letter-spacing:-0.404px;">na poziomie 14°C oraz minimami w</span>
<span style="left:215.20px;top:516.45px;font-size:20.5px;font-weight:400;color:#005e9e;letter-spacing:-0.813px;">okolicach 6°C.</span>
<span style="transform:scaleX(0.9205);transform-origin:0px 36.82px;left:447.00px;top:625.88px;font-size:43.5px;font-weight:700;color:#005e9e;">TEMPERATURA</span>
<span style="transform:scaleX(0.9428);transform-origin:0px 36.82px;left:528.00px;top:1381.98px;font-size:43.5px;font-weight:700;color:#005e9e;">OPADY</span>
<span style="left:74.90px;top:1019.58px;font-size:11.6px;font-weight:400;color:#005e9e;letter-spacing:-0.084px;">0°C</span>
<span style="left:74.90px;top:980.29px;font-size:11.6px;font-weight:400;color:#005e9e;letter-spacing:-0.084px;">5°C</span>
<span style="left:69.20px;top:941.01px;font-size:11.6px;font-weight:400;color:#005e9e;letter-spacing:-0.302px;">10°C</span>
<span style="left:69.20px;top:901.72px;font-size:11.6px;font-weight:400;color:#005e9e;letter-spacing:-0.302px;">15°C</span>
<span style="left:69.20px;top:862.44px;font-size:11.6px;font-weight:400;color:#005e9e;letter-spacing:-0.302px;">20°C</span>
<span style="left:69.20px;top:823.15px;font-size:11.6px;font-weight:400;color:#005e9e;letter-spacing:-0.302px;">25°C</span>
<span style="left:69.20px;top:783.87px;font-size:11.6px;font-weight:400;color:#005e9e;letter-spacing:-0.302px;">30°C</span>
<span style="left:69.20px;top:744.58px;font-size:11.6px;font-weight:400;color:#005e9e;letter-spacing:-0.302px;">35°C</span>
<span style="left:120.00px;top:1035.20px;font-size:13px;font-weight:400;color:#005e9e;">Sty</span>
<span style="left:172.46px;top:1035.20px;font-size:13px;font-weight:400;color:#005e9e;">Lut</span>
<span style="left:222.40px;top:1035.20px;font-size:13px;font-weight:400;color:#005e9e;">Mar</span>
<span style="left:275.22px;top:1035.20px;font-size:13px;font-weight:400;color:#005e9e;">Kwi</span>
<span style="left:327.32px;top:1035.20px;font-size:13px;font-weight:400;color:#005e9e;">Maj</span>
<span style="left:378.34px;top:1035.20px;font-size:13px;font-weight:400;color:#005e9e;">Cze</span>
<span style="left:433.32px;top:1035.20px;font-size:13px;font-weight:400;color:#005e9e;">Lip</span>
<span style="left:484.70px;top:1035.20px;font-size:13px;font-weight:400;color:#005e9e;">Sie</span>
<span style="left:534.76px;top:1035.20px;font-size:13px;font-weight:400;color:#005e9e;">Wrz</span>
<span style="left:587.10px;top:1035.20px;font-size:13px;font-weight:400;color:#005e9e;">Paź</span>
<span style="left:642.09px;top:1035.20px;font-size:13px;font-weight:400;color:#005e9e;">Lis</span>
<span style="left:691.66px;top:1035.20px;font-size:13px;font-weight:400;color:#005e9e;">Gru</span>
<span style="transform:rotate(-90deg);transform-origin:0px 11.17px;left:50.10px;top:917.33px;font-size:13.2px;font-weight:400;color:#005e9e;letter-spacing:0.607px;">Temperatura</span>
<span style="left:157.30px;top:1073.76px;font-size:12.8px;font-weight:400;color:#005e9e;letter-spacing:0.684px;">Temperatura maksymalna (średnia)</span>
<span style="left:448.00px;top:1073.76px;font-size:12.8px;font-weight:400;color:#005e9e;letter-spacing:0.761px;">Temperatura minimalna (średnia)</span>
<span style="transform:scaleX(0.8924);transform-origin:0px 17.35px;left:785.00px;top:746.65px;font-size:20.5px;font-weight:700;color:#005e9e;">ŚREDNIA ROCZNA TEMPERATURA</span>
<span style="left:796.60px;top:791.65px;font-size:20.5px;font-weight:400;color:#005e9e;letter-spacing:-0.548px;">Średnia maksymalna roczna</span>
<span style="left:784.40px;top:815.31px;font-size:20.5px;font-weight:400;color:#005e9e;letter-spacing:-0.354px;">temperatura wynosi 22.6°C</span>
<span style="left:796.60px;top:862.63px;font-size:20.5px;font-weight:400;color:#005e9e;letter-spacing:-0.270px;">Średnia minimalna roczna temperatura</span>
<span style="left:784.40px;top:886.29px;font-size:20.5px;font-weight:400;color:#005e9e;letter-spacing:-1.083px;">sięga 12.3°C</span>
<span style="left:796.60px;top:933.61px;font-size:20.5px;font-weight:400;color:#005e9e;letter-spacing:-0.204px;">Uśredniona dobowa temperatura dla</span>
<span style="left:784.40px;top:957.27px;font-size:20.5px;font-weight:400;color:#005e9e;letter-spacing:-0.394px;">całego roku kształtuje się na poziomie</span>
<span style="left:784.40px;top:980.93px;font-size:20.5px;font-weight:400;color:#005e9e;letter-spacing:-1.381px;">17.5°C</span>
<span style="transform:scaleX(0.9817);transform-origin:0px 18.62px;left:463.73px;top:1135.88px;font-size:22px;font-weight:700;color:#005e9e;">TEMPERATURA DOBOWA</span>
<span style="transform:scaleX(0.8800);transform-origin:0px 15.49px;left:70.70px;top:1196.41px;font-size:18.3px;font-weight:700;color:rgba(0,0,0,0.5);">STY</span>
<span style="transform:scaleX(1.0500);transform-origin:0px 24.38px;left:63.48px;top:1246.52px;font-size:28.8px;font-weight:700;color:rgba(0,0,0,0.5);">25°</span>
<span style="transform:scaleX(0.8800);transform-origin:0px 15.49px;left:163.89px;top:1196.41px;font-size:18.3px;font-weight:700;color:rgba(0,0,0,0.5);">LUT</span>
<span style="transform:scaleX(1.0500);transform-origin:0px 24.38px;left:156.67px;top:1246.52px;font-size:28.8px;font-weight:700;color:rgba(0,0,0,0.5);">24°</span>
<span style="transform:scaleX(0.8800);transform-origin:0px 15.49px;left:254.40px;top:1196.41px;font-size:18.3px;font-weight:700;color:rgba(0,0,0,0.5);">MAR</span>
<span style="transform:scaleX(1.0500);transform-origin:0px 24.38px;left:249.86px;top:1246.52px;font-size:28.8px;font-weight:700;color:rgba(0,0,0,0.5);">21°</span>
<span style="transform:scaleX(0.8800);transform-origin:0px 15.49px;left:350.27px;top:1196.41px;font-size:18.3px;font-weight:700;color:rgba(0,0,0,0.5);">KWI</span>
<span style="transform:scaleX(1.0500);transform-origin:0px 24.38px;left:343.04px;top:1246.52px;font-size:28.8px;font-weight:700;color:rgba(0,0,0,0.5);">18°</span>
<span style="transform:scaleX(0.8800);transform-origin:0px 15.49px;left:442.11px;top:1196.41px;font-size:18.3px;font-weight:700;color:rgba(0,0,0,0.5);">MAJ</span>
<span style="transform:scaleX(1.0500);transform-origin:0px 24.38px;left:436.23px;top:1246.52px;font-size:28.8px;font-weight:700;color:rgba(0,0,0,0.5);">14°</span>
<span style="transform:scaleX(0.8800);transform-origin:0px 15.49px;left:536.19px;top:1196.41px;font-size:18.3px;font-weight:700;color:rgba(0,0,0,0.5);">CZE</span>
<span style="transform:scaleX(1.0500);transform-origin:0px 24.38px;left:530.25px;top:1246.52px;font-size:28.8px;font-weight:700;color:rgba(0,0,0,0.5);">11°</span>
<span style="transform:scaleX(0.8800);transform-origin:0px 15.49px;left:632.95px;top:1196.41px;font-size:18.3px;font-weight:700;color:rgba(0,0,0,0.5);">LIP</span>
<span style="transform:scaleX(1.0500);transform-origin:0px 24.38px;left:622.61px;top:1246.52px;font-size:28.8px;font-weight:700;color:rgba(0,0,0,0.5);">10°</span>
<span style="transform:scaleX(0.8800);transform-origin:0px 15.49px;left:725.69px;top:1196.41px;font-size:18.3px;font-weight:700;color:rgba(0,0,0,0.5);">SIE</span>
<span style="transform:scaleX(1.0500);transform-origin:0px 24.38px;left:715.79px;top:1246.52px;font-size:28.8px;font-weight:700;color:rgba(0,0,0,0.5);">12°</span>
<span style="transform:scaleX(0.8800);transform-origin:0px 15.49px;left:813.53px;top:1196.41px;font-size:18.3px;font-weight:700;color:rgba(0,0,0,0.5);">WRZ</span>
<span style="transform:scaleX(1.0500);transform-origin:0px 24.38px;left:808.98px;top:1246.52px;font-size:28.8px;font-weight:700;color:rgba(0,0,0,0.5);">14°</span>
<span style="transform:scaleX(0.8800);transform-origin:0px 15.49px;left:909.53px;top:1196.41px;font-size:18.3px;font-weight:700;color:rgba(0,0,0,0.5);">PAŹ</span>
<span style="transform:scaleX(1.0500);transform-origin:0px 24.38px;left:902.17px;top:1246.52px;font-size:28.8px;font-weight:700;color:rgba(0,0,0,0.5);">17°</span>
<span style="transform:scaleX(0.8800);transform-origin:0px 15.49px;left:1005.70px;top:1196.41px;font-size:18.3px;font-weight:700;color:rgba(0,0,0,0.5);">LIS</span>
<span style="transform:scaleX(1.0500);transform-origin:0px 24.38px;left:995.36px;top:1246.52px;font-size:28.8px;font-weight:700;color:rgba(0,0,0,0.5);">20°</span>
<span style="transform:scaleX(0.8800);transform-origin:0px 15.49px;left:1093.53px;top:1196.41px;font-size:18.3px;font-weight:700;color:rgba(0,0,0,0.5);">GRU</span>
<span style="transform:scaleX(1.0500);transform-origin:0px 24.38px;left:1088.54px;top:1246.52px;font-size:28.8px;font-weight:700;color:rgba(0,0,0,0.5);">24°</span>
<span style="left:75.52px;top:1778.48px;font-size:11.6px;font-weight:400;color:#005e9e;">0 mm</span>
<span style="left:69.06px;top:1744.13px;font-size:11.6px;font-weight:400;color:#005e9e;">20 mm</span>
<span style="left:69.06px;top:1709.78px;font-size:11.6px;font-weight:400;color:#005e9e;">40 mm</span>
<span style="left:69.06px;top:1675.43px;font-size:11.6px;font-weight:400;color:#005e9e;">60 mm</span>
<span style="left:69.06px;top:1641.08px;font-size:11.6px;font-weight:400;color:#005e9e;">80 mm</span>
<span style="left:62.61px;top:1606.73px;font-size:11.6px;font-weight:400;color:#005e9e;">100 mm</span>
<span style="left:62.61px;top:1572.38px;font-size:11.6px;font-weight:400;color:#005e9e;">120 mm</span>
<span style="left:62.61px;top:1538.03px;font-size:11.6px;font-weight:400;color:#005e9e;">140 mm</span>
<span style="left:62.61px;top:1503.68px;font-size:11.6px;font-weight:400;color:#005e9e;">160 mm</span>
<span style="left:130.25px;top:1794.30px;font-size:13px;font-weight:400;color:#005e9e;">Sty</span>
<span style="left:181.90px;top:1794.30px;font-size:13px;font-weight:400;color:#005e9e;">Lut</span>
<span style="left:231.03px;top:1794.30px;font-size:13px;font-weight:400;color:#005e9e;">Mar</span>
<span style="left:283.04px;top:1794.30px;font-size:13px;font-weight:400;color:#005e9e;">Kwi</span>
<span style="left:334.34px;top:1794.30px;font-size:13px;font-weight:400;color:#005e9e;">Maj</span>
<span style="left:384.54px;top:1794.30px;font-size:13px;font-weight:400;color:#005e9e;">Cze</span>
<span style="left:438.72px;top:1794.30px;font-size:13px;font-weight:400;color:#005e9e;">Lip</span>
<span style="left:489.29px;top:1794.30px;font-size:13px;font-weight:400;color:#005e9e;">Sie</span>
<span style="left:538.54px;top:1794.30px;font-size:13px;font-weight:400;color:#005e9e;">Wrz</span>
<span style="left:590.07px;top:1794.30px;font-size:13px;font-weight:400;color:#005e9e;">Paź</span>
<span style="left:644.25px;top:1794.30px;font-size:13px;font-weight:400;color:#005e9e;">Lis</span>
<span style="left:693.02px;top:1794.30px;font-size:13px;font-weight:400;color:#005e9e;">Gru</span>
<span style="transform:rotate(-90deg);transform-origin:0px 11.17px;left:50.00px;top:1656.13px;font-size:13.2px;font-weight:400;color:#005e9e;letter-spacing:0.560px;">Opady</span>
<span style="left:351.00px;top:1833.36px;font-size:12.8px;font-weight:400;color:#005e9e;letter-spacing:0.669px;">Suma opadów</span>
<span style="left:784.40px;top:1505.85px;font-size:20.5px;font-weight:400;color:#005e9e;letter-spacing:-0.460px;">Średnia roczna suma opadów w</span>
<span style="left:784.40px;top:1529.55px;font-size:20.5px;font-weight:400;color:#005e9e;letter-spacing:-0.459px;">miejscowości Ramos Mejía to około</span>
<span style="left:784.40px;top:1553.25px;font-size:20.5px;font-weight:400;color:#005e9e;letter-spacing:-0.527px;">1367 mm. Różnica pomiędzy</span>
<span style="left:784.40px;top:1576.95px;font-size:20.5px;font-weight:400;color:#005e9e;letter-spacing:-0.431px;">najwyższymi opadami (luty) i najniższymi</span>
<span style="left:784.40px;top:1600.65px;font-size:20.5px;font-weight:400;color:#005e9e;letter-spacing:-0.587px;">(czerwiec) wynosi 64 mm.</span>
<span style="left:784.40px;top:1648.05px;font-size:20.5px;font-weight:400;color:#005e9e;letter-spacing:-0.367px;">Najwięcej opadów pojawia się w lutym,</span>
<span style="left:784.40px;top:1671.75px;font-size:20.5px;font-weight:400;color:#005e9e;letter-spacing:-0.388px;">w tym okresie miesięczna suma opadów</span>
<span style="left:784.40px;top:1695.45px;font-size:20.5px;font-weight:400;color:#005e9e;letter-spacing:-0.453px;">oscyluje wokół 134 mm, a</span>
<span style="left:784.40px;top:1719.15px;font-size:20.5px;font-weight:400;color:#005e9e;letter-spacing:-0.205px;">prawdopodobieństwo ich wystąpienia</span>
<span style="left:784.40px;top:1742.85px;font-size:20.5px;font-weight:400;color:#005e9e;letter-spacing:-0.329px;">wynosi około 24%. Natomiast najmniej</span>
<span style="left:784.40px;top:1766.55px;font-size:20.5px;font-weight:400;color:#005e9e;letter-spacing:-0.364px;">opadów notuje się w czerwcu - średnio</span>
<span style="left:784.40px;top:1790.25px;font-size:20.5px;font-weight:400;color:#005e9e;letter-spacing:-0.506px;">71 mm, a szanse na wystąpienie opadów</span>
<span style="left:784.40px;top:1813.95px;font-size:20.5px;font-weight:400;color:#005e9e;letter-spacing:-0.953px;">wynoszą 19%.</span>
<span style="transform:scaleX(0.8863);transform-origin:0px 17.35px;left:786.00px;top:1891.65px;font-size:20.5px;font-weight:700;color:#005e9e;">ROCZNE OPADY WEDŁUG TYPU</span>
<span style="left:796.60px;top:1924.35px;font-size:20.5px;font-weight:400;color:#005e9e;letter-spacing:-1.239px;">Deszcz: 100%</span>
<span style="left:796.60px;top:1953.35px;font-size:20.5px;font-weight:400;color:#005e9e;letter-spacing:-1.344px;">Śnieg: 0%</span>
<span style="transform:scaleX(0.9403);transform-origin:0px 14.05px;left:319.95px;top:1878.35px;font-size:16.6px;font-weight:700;color:#fff;">SZANSA OPADÓW</span>
<span style="left:48.14px;top:1958.85px;font-size:17.9px;font-weight:700;color:#fff;">22%</span>
<span style="transform:scaleX(0.9000);transform-origin:0px 10.16px;left:55.15px;top:1999.04px;font-size:12px;font-weight:700;color:#005e9e;">STY</span>
<span style="left:106.64px;top:1958.85px;font-size:17.9px;font-weight:700;color:#fff;">24%</span>
<span style="transform:scaleX(0.9000);transform-origin:0px 10.16px;left:113.65px;top:1999.04px;font-size:12px;font-weight:700;color:#005e9e;">LUT</span>
<span style="left:165.14px;top:1958.85px;font-size:17.9px;font-weight:700;color:#fff;">20%</span>
<span style="transform:scaleX(0.9000);transform-origin:0px 10.16px;left:170.35px;top:1999.04px;font-size:12px;font-weight:700;color:#005e9e;">MAR</span>
<span style="left:223.64px;top:1958.85px;font-size:17.9px;font-weight:700;color:#fff;">23%</span>
<span style="transform:scaleX(0.9000);transform-origin:0px 10.16px;left:230.65px;top:1999.04px;font-size:12px;font-weight:700;color:#005e9e;">KWI</span>
<span style="left:282.14px;top:1958.85px;font-size:17.9px;font-weight:700;color:#fff;">20%</span>
<span style="transform:scaleX(0.9000);transform-origin:0px 10.16px;left:288.25px;top:1999.04px;font-size:12px;font-weight:700;color:#005e9e;">MAJ</span>
<span style="left:340.64px;top:1958.85px;font-size:17.9px;font-weight:700;color:#fff;">19%</span>
<span style="transform:scaleX(0.9000);transform-origin:0px 10.16px;left:347.35px;top:1999.04px;font-size:12px;font-weight:700;color:#005e9e;">CZE</span>
<span style="left:399.14px;top:1958.85px;font-size:17.9px;font-weight:700;color:#fff;">21%</span>
<span style="transform:scaleX(0.9000);transform-origin:0px 10.16px;left:408.25px;top:1999.04px;font-size:12px;font-weight:700;color:#005e9e;">LIP</span>
<span style="left:457.64px;top:1958.85px;font-size:17.9px;font-weight:700;color:#fff;">18%</span>
<span style="transform:scaleX(0.9000);transform-origin:0px 10.16px;left:466.45px;top:1999.04px;font-size:12px;font-weight:700;color:#005e9e;">SIE</span>
<span style="left:516.14px;top:1958.85px;font-size:17.9px;font-weight:700;color:#fff;">21%</span>
<span style="transform:scaleX(0.9000);transform-origin:0px 10.16px;left:521.35px;top:1999.04px;font-size:12px;font-weight:700;color:#005e9e;">WRZ</span>
<span style="left:574.64px;top:1958.85px;font-size:17.9px;font-weight:700;color:#fff;">26%</span>
<span style="transform:scaleX(0.9000);transform-origin:0px 10.16px;left:581.75px;top:1999.04px;font-size:12px;font-weight:700;color:#005e9e;">PAŹ</span>
<span style="left:633.14px;top:1958.85px;font-size:17.9px;font-weight:700;color:#fff;">21%</span>
<span style="transform:scaleX(0.9000);transform-origin:0px 10.16px;left:642.25px;top:1999.04px;font-size:12px;font-weight:700;color:#005e9e;">LIS</span>
<span style="left:691.64px;top:1958.85px;font-size:17.9px;font-weight:700;color:#fff;">23%</span>
<span style="transform:scaleX(0.9000);transform-origin:0px 10.16px;left:697.15px;top:1999.04px;font-size:12px;font-weight:700;color:#005e9e;">GRU</span>
<span style="transform:rotate(90deg) scaleX(0.9011);transform-origin:0px 17.44px;left:1154.80px;top:218.26px;font-size:20.6px;font-weight:700;color:#005e9e;">34° 39&#x27; 18&quot; S — 58° 33&#x27; 11&quot; W</span>
<span style="transform:rotate(90deg) scaleX(0.8547);transform-origin:0px 12.02px;left:1137.60px;top:224.98px;font-size:14.2px;font-weight:400;color:#005e9e;">BUENOS AIRES</span>
<span style="transform:scaleX(0.9266);transform-origin:0px 19.05px;left:983.00px;top:2101.25px;font-size:22.5px;font-weight:700;color:#fff;">METEOATLAS.PL</span>
<span style="left:185.00px;top:2103.76px;font-size:16px;font-weight:700;color:#a9dcfa;letter-spacing:0.952px;">CC BY-ND 4.0</span>
</div></body></html>
